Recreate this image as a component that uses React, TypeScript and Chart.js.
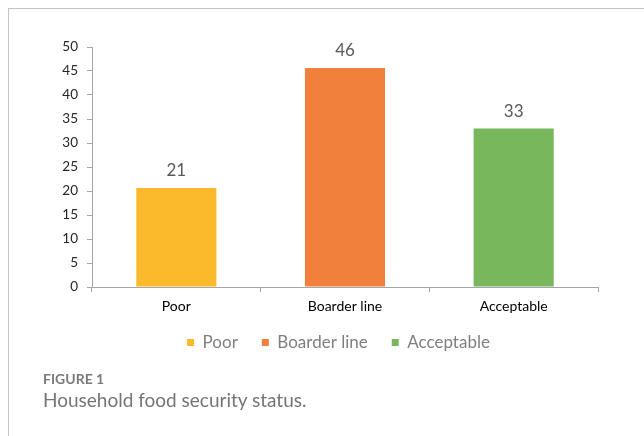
import { useEffect, useRef } from "react";
import { Chart, registerables } from "chart.js";

Chart.register(...registerables);

const categories = ["Poor", "Boarder line", "Acceptable"];
const values = [20.6, 45.6, 33.0];
const barColors = ["#FBB92C", "#F0803B", "#79B75C"];
const yMin = 0;
const yMax = 50;
const yStep = 5;
const figureLabel = "FIGURE 1";
const figureCaption = "Household food security status.";

const FONT = "Lato, 'Open Sans', sans-serif";

const dataLabelPlugin = {
  id: "dataLabels",
  afterDatasetsDraw(chart: any) {
    const ctx = chart.ctx;
    const meta = chart.getDatasetMeta(0);
    ctx.save();
    ctx.font = `17px ${FONT}`;
    ctx.fillStyle = "#595959";
    ctx.textAlign = "center";
    ctx.textBaseline = "alphabetic";
    meta.data.forEach((bar: any, i: number) => {
      const v = chart.data.datasets[0].data[i] as number;
      ctx.fillText(String(Math.round(v)), bar.x, bar.y - 12);
    });
    ctx.restore();
  },
};

const legendShiftPlugin = {
  id: "legendShift",
  afterLayout(chart: any) {
    const lg = chart.legend;
    if (!lg) return;
    const dx = 35;
    const dy = -17;
    lg.left += dx;
    lg.right += dx;
    lg.top += dy;
    lg.bottom += dy;
    if (lg.legendHitBoxes) {
      lg.legendHitBoxes.forEach((b: any) => {
        b.left += dx;
        b.top += dy;
      });
    }
  },
};

export default function App() {
  const ref = useRef<HTMLCanvasElement | null>(null);
  useEffect(() => {
    if (!ref.current) return;
    const chart = new Chart(ref.current, {
      type: "bar",
      data: {
        labels: categories,
        datasets: [
          {
            data: values,
            backgroundColor: barColors,
            borderWidth: 0,
            categoryPercentage: 1,
            barPercentage: 0.475,
          },
        ],
      },
      options: {
        animation: false,
        responsive: false,
        maintainAspectRatio: false,
        layout: { padding: { top: 38, right: 46, left: 0, bottom: 0 } },
        plugins: {
          tooltip: { enabled: false },
          legend: {
            position: "bottom",
            labels: {
              font: { family: FONT, size: 17 },
              color: "#7f7f7f",
              boxWidth: 7,
              boxHeight: 7,
              padding: 24,
              generateLabels: () =>
                categories.map((c, i) => ({
                  text: c,
                  fillStyle: barColors[i],
                  strokeStyle: barColors[i],
                  lineWidth: 0,
                  fontColor: "#7f7f7f",
                  hidden: false,
                  index: i,
                  datasetIndex: 0,
                })),
            },
          },
        },
        scales: {
          x: {
            afterFit: (s: any) => {
              s.height = 40;
            },
            grid: {
              offset: true,
              drawOnChartArea: false,
              drawTicks: true,
              tickLength: 5,
              color: "#a6a6a6",
            },
            border: { display: true, color: "#a6a6a6" },
            ticks: { font: { family: FONT, size: 14 }, color: "#000000", padding: 6 },
          },
          y: {
            min: yMin,
            max: yMax,
            afterFit: (s: any) => {
              s.width = 83;
            },
            grid: {
              drawOnChartArea: false,
              drawTicks: true,
              tickLength: 5,
              color: "#a6a6a6",
            },
            border: { display: true, color: "#a6a6a6" },
            ticks: {
              stepSize: yStep,
              font: { family: FONT, size: 13.5 },
              color: "#262626",
              padding: 9,
            },
          },
        },
      },
      plugins: [dataLabelPlugin, legendShiftPlugin],
    });
    return () => chart.destroy();
  }, []);

  return (
    <div
      style={{
        position: "fixed",
        left: 8,
        top: 8,
        width: 636,
        height: 428,
        boxSizing: "border-box",
        borderTop: "1px solid #c4c4c4",
        borderLeft: "1px solid #c4c4c4",
        background: "#ffffff",
      }}
    >
      <canvas
        ref={ref}
        width={635}
        height={369}
        style={{ position: "absolute", left: 0, top: 0, width: 635, height: 369 }}
      />
      <div
        style={{
          position: "absolute",
          left: 34,
          top: 362.6,
          fontFamily: FONT,
          fontSize: 14,
          lineHeight: "14px",
          fontWeight: 700,
          color: "#7a7a7a",
          whiteSpace: "nowrap",
        }}
      >
        {figureLabel}
      </div>
      <div
        style={{
          position: "absolute",
          left: 34,
          top: 380.9,
          fontFamily: FONT,
          fontSize: 19,
          lineHeight: "19px",
          color: "#747474",
          whiteSpace: "nowrap",
        }}
      >
        {figureCaption}
      </div>
    </div>
  );
}
